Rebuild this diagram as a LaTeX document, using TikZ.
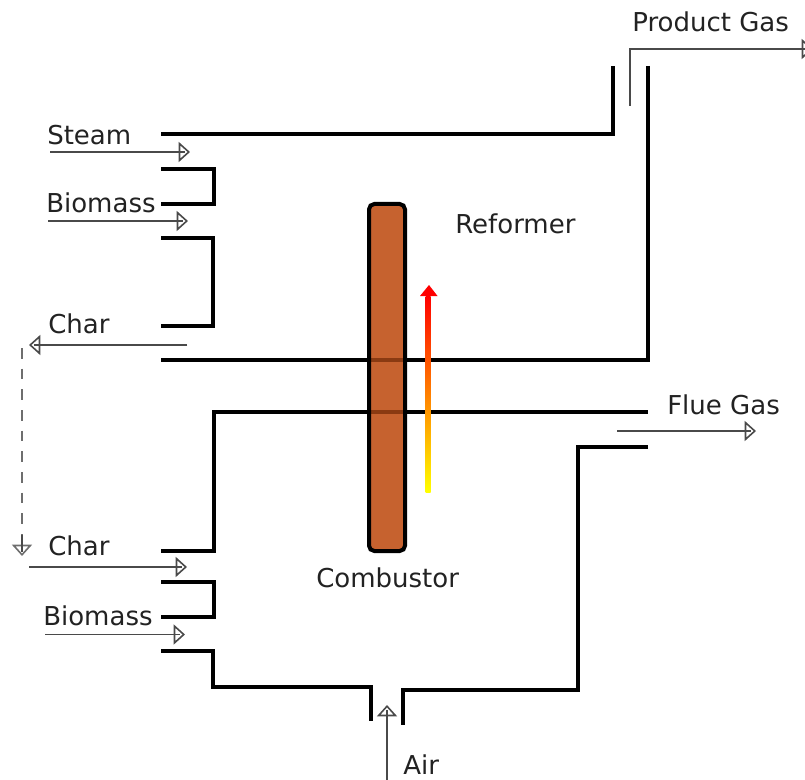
\documentclass[tikz,border=0pt]{standalone}
\usepackage{fontspec}
\setmainfont{DejaVu Sans}
\usetikzlibrary{arrows.meta}
\definecolor{txt}{HTML}{222222}
\definecolor{flowc}{HTML}{4A4A4A}
\definecolor{barc}{HTML}{C6622F}
\definecolor{bardark}{HTML}{8A3A12}
\tikzset{
  wall/.style={draw=black,line width=3.2pt,line cap=butt,line join=miter},
  flowtip/.style={-{Triangle[open,length=8.5pt,width=15pt,line width=1.2pt]}},
  flow/.style={draw=flowc,line width=1.35pt,flowtip,postaction={draw,arrows=-,shorten >=4pt}},
  lab/.style={anchor=base west,inner sep=0pt,text=txt,font=\fontsize{19.5}{22}\selectfont},
}
\begin{document}
\begin{tikzpicture}[x=0.75pt,y=-0.75pt]
\useasboundingbox (0,0) rectangle (805,780);
\clip (0,0) rectangle (805,780);
% walls
\draw[wall] (161,134) -- (613,134) -- (613,66);
\draw[wall] (648,66) -- (648,360) -- (161,360);
\draw[wall] (161,169) -- (214,169) -- (214,204) -- (161,204);
\draw[wall] (161,238) -- (213,238) -- (213,326) -- (161,326);
\draw[wall] (161,551) -- (214,551) -- (214,412) -- (648,412);
\draw[wall] (648,447) -- (578,447) -- (578,690) -- (403,690) -- (403,725);
\draw[wall] (161,582) -- (214,582) -- (214,617) -- (161,617);
\draw[wall] (161,651) -- (213,651) -- (213,687) -- (371,687) -- (371,721);
% heat exchange bar
\fill[barc,rounded corners=3pt] (369,204) rectangle (405,551);
\draw[bardark,line width=3.2pt] (370,360) -- (404,360);
\draw[bardark,line width=3.2pt] (370,412) -- (404,412);
\draw[black,line width=3pt,rounded corners=4pt] (369,204) rectangle (405,551);
% heat arrow
\shade[bottom color=yellow,top color=red] (425.5,296) rectangle (430.5,492);
\fill[red] (429,285) -- (437.5,296) -- (420,296) -- cycle;
% named ends of the flows
\coordinate (steamA) at (50,152);   \coordinate (steamB) at (190,152);
\coordinate (bioA) at (48,221);     \coordinate (bioB) at (188,221);
\coordinate (charA) at (187,345);   \coordinate (charB) at (29,345);
\coordinate (dashA) at (22,348);    \coordinate (dashB) at (22,556);
\coordinate (charC) at (29,567);    \coordinate (charD) at (187,567);
\coordinate (bioC) at (45,634.5);   \coordinate (bioD) at (185,634.5);
\coordinate (airA) at (387,780);    \coordinate (airB) at (387,705);
\coordinate (flueA) at (617,431);   \coordinate (flueB) at (756,431);
\coordinate (prodA) at (630,106);   \coordinate (prodK) at (630,49); \coordinate (prodB) at (813,49);
\draw[flow] (steamA) -- (steamB);
\draw[flow] (bioA) -- (bioB);
\draw[flow] (charA) -- (charB);
\draw[draw=flowc!80,line width=1.5pt,dash pattern=on 8pt off 7.5pt,flowtip] (dashA) -- (dashB);
\draw[draw=flowc,line width=1.35pt] (22,535) -- (22,552);
\draw[flow] (charC) -- (charD);
\draw[flow] (bioC) -- (bioD);
\draw[flow] (airA) -- (airB);
\draw[flow] (flueA) -- (flueB);
\draw[flow] (prodA) -- (prodK) -- (prodB);
% labels
\node[lab] (tProd) at (632,32) {Product Gas};
\node[lab] (tSteam) at (47,145) {Steam};
\node[lab] (tBio) at (46,213) {Biomass};
\node[lab] (tRef) at (455,234) {Reformer};
\node[lab] (tChar) at (48,333) {Char};
\node[lab] (tFlue) at (667,414) {Flue Gas};
\node[lab] (tCharB) at (48,555) {Char};
\node[lab] (tComb) at (316,587) {Combustor};
\node[lab] (tBioB) at (43,625) {Biomass};
\node[lab] (tAir) at (403,774) {Air};
\end{tikzpicture}
\end{document}
